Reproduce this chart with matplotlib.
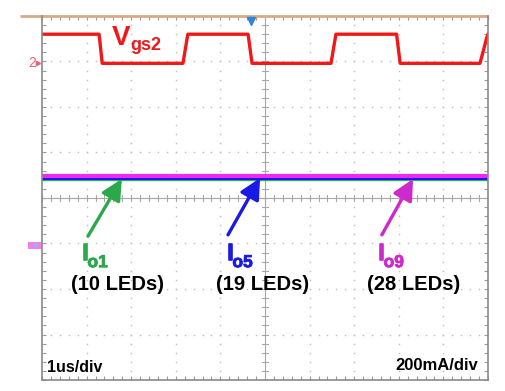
import numpy as np
import matplotlib
matplotlib.use("Agg")
import matplotlib.pyplot as plt
import matplotlib.patheffects as pe
from matplotlib.patches import Rectangle

# scope screen: 10 x 8 divisions, values below are in divisions
# Vgs2 gate drive (channel 2, ground marker at 7 div)
vgs_t = [0, 1.28, 1.35, 3.16, 3.27, 4.62, 4.71, 6.48, 6.59, 7.95, 8.03, 9.82, 9.98, 10]
vgs_v = [7.6, 7.6, 6.96, 6.96, 7.6, 7.6, 6.96, 6.96, 7.6, 7.6, 6.96, 6.96, 7.55, 7.6]

# LED string currents (ground marker at 3 div, 200 mA/div)
io_t = [0, 10]
io1 = [4.42, 4.42]
io5 = [4.45, 4.45]
io9 = [4.48, 4.48]

labels = ["o1", "o5", "o9"]
leds = ["(10 LEDs)", "(19 LEDs)", "(28 LEDs)"]
arrow_tail = [(1.03, 3.16), (4.17, 3.19), (7.62, 3.19)]
arrow_tip = [(1.79, 4.42), (4.89, 4.44), (8.32, 4.42)]
label_x = [0.90, 4.15, 7.54]
leds_x = [1.70, 4.94, 8.34]
colors = ["#2aa84a", "#1a1ae6", "#cc2acc"]
trace_colors = ["#33dd33", "#1515f0", "#f028f0"]

plt.rcParams["font.family"] = ["Liberation Sans", "DejaVu Sans"]

fig = plt.figure(figsize=(5.06, 3.91), dpi=100)
ax = fig.add_axes([42 / 506, 1 - 380 / 391, 446 / 506, 364 / 391])
ax.set_xlim(0, 10)
ax.set_ylim(0, 8)

# dotted graticule
for gx in range(1, 10):
    if gx == 5:
        continue
    yy = np.arange(0, 8.01, 0.2)
    ax.plot([gx] * len(yy), yy, ls="none", marker="s", ms=1.0, color="#bdbdbd", mec="none")
for gy in range(1, 8):
    if gy == 4:
        continue
    xx = np.arange(0, 10.01, 0.2)
    ax.plot(xx, [gy] * len(xx), ls="none", marker="s", ms=1.0, color="#bdbdbd", mec="none")

# center crosshair with minor ticks
ax.axhline(4, color="#a8a8a8", lw=0.8)
ax.axvline(5, color="#a8a8a8", lw=0.8)
for xm in np.arange(0, 10.01, 0.2):
    ax.plot([xm, xm], [3.93, 4.07], color="#a8a8a8", lw=0.8)
for ym in np.arange(0, 8.01, 0.2):
    ax.plot([4.93, 5.07], [ym, ym], color="#a8a8a8", lw=0.8)

ax.set_xticks(range(0, 11))
ax.set_yticks(range(0, 9))
ax.set_xticks(np.arange(0, 10.01, 0.2), minor=True)
ax.set_yticks(np.arange(0, 8.01, 0.2), minor=True)
ax.tick_params(which="both", direction="in", length=3, width=0.8, color="#9a9a9a",
               top=True, right=True, labelbottom=False, labelleft=False)
for s in ["left", "right", "bottom"]:
    ax.spines[s].set_color("#8a8a8a")
    ax.spines[s].set_linewidth(1.2)
ax.spines["top"].set_visible(False)
ax.plot([-0.49, 10], [8, 8], color="#d8aa88", lw=2, clip_on=False, solid_capstyle="butt")

# traces
ax.plot(io_t, io1, color=trace_colors[0], lw=3.2)
ax.plot(io_t, io5, color=trace_colors[1], lw=3.2)
ax.plot(io_t, io9, color=trace_colors[2], lw=3.0)
ax.plot(vgs_t, vgs_v, color="#f01818", lw=2.4)

# channel / trigger markers
ax.text(-0.14, 6.97, "2", color="#f0607a", fontsize=10, ha="right", va="center")
ax.plot([-0.1], [6.97], marker=">", ms=3, color="#f0607a", clip_on=False)
ax.add_patch(Rectangle((-0.31, 2.88), 0.3, 0.15, facecolor="#f080e8", edgecolor="none", clip_on=False))
ax.add_patch(Rectangle((-0.2, 2.92), 0.12, 0.08, facecolor="#9ab0f0", edgecolor="none", clip_on=False))
ax.plot([4.69], [7.9], marker="v", ms=6, color="#2e86de", clip_on=False)

# annotations
ax.text(1.57, 7.36, "V", color="#f01818", fontsize=20, fontweight="bold", va="baseline")
ax.text(1.97, 7.25, "gs2", color="#f01818", fontsize=13, fontweight="bold", va="baseline")

for i in range(3):
    thick = [pe.withStroke(linewidth=0.6, foreground=colors[i])]
    ax.annotate("", xy=arrow_tip[i], xytext=arrow_tail[i],
                arrowprops=dict(arrowstyle="-|>,head_length=0.7,head_width=0.35",
                                color=colors[i], lw=2.4, mutation_scale=18,
                                shrinkA=0, shrinkB=0))
    ax.text(label_x[i], 2.64, "I", color=colors[i], fontsize=17, fontweight="bold",
            va="baseline", path_effects=[pe.withStroke(linewidth=1.2, foreground=colors[i])])
    ax.text(label_x[i] + 0.12, 2.48, labels[i], color=colors[i], fontsize=12.5,
            fontweight="bold", va="baseline", path_effects=thick)
    ax.text(leds_x[i], 1.98, leds[i], color="black", fontsize=14.5, fontweight="bold",
            ha="center", va="baseline")

ax.text(0.11, 0.18, "1us/div", fontsize=11.5, fontweight="bold", va="baseline")
ax.text(9.78, 0.22, "200mA/div", fontsize=12, fontweight="bold", ha="right", va="baseline")

fig.savefig("out.png", dpi=100)
